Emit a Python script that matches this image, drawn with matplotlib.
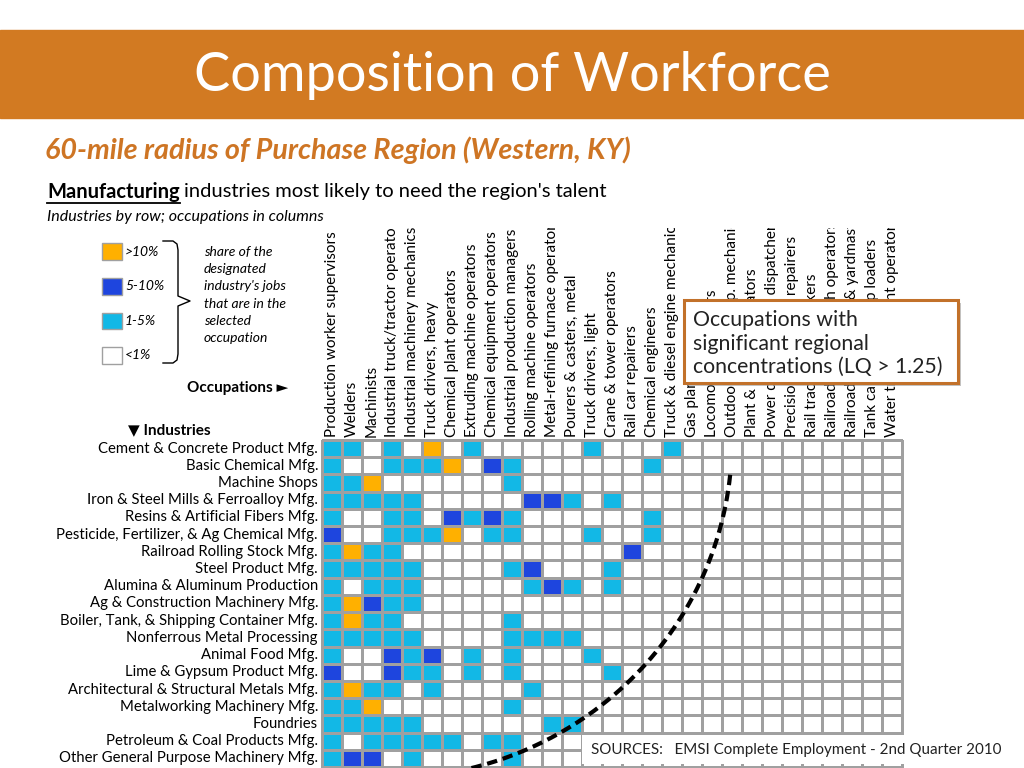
import matplotlib.pyplot as plt
import numpy as np
from matplotlib.colors import ListedColormap
from matplotlib.patches import Rectangle
from matplotlib.lines import Line2D
from matplotlib.transforms import Bbox, TransformedBbox

plt.rcParams['font.family'] = ['Lato', 'DejaVu Sans']

occupations = [
    'Production worker supervisors', 'Welders', 'Machinists',
    'Industrial truck/tractor operators', 'Industrial machinery mechanics',
    'Truck drivers, heavy', 'Chemical plant operators',
    'Extruding machine operators', 'Chemical equipment operators',
    'Industrial production managers', 'Rolling machine operators',
    'Metal-refining furnace operator', 'Pourers & casters, metal',
    'Truck drivers, light', 'Crane & tower operators', 'Rail car repairers',
    'Chemical engineers', 'Truck & diesel engine mechanics',
    'Gas plant operators', 'Locomotive engineers',
    'Outdoor power equip. mechanics', 'Plant & system operators',
    'Power distributors & dispatchers', 'Precision instrument repairers',
    'Rail track laying workers', 'Railroad brake/switch operators',
    'Railroad conductors & yardmasters', 'Tank car, truck & ship loaders',
    'Water treatment plant operators',
]

industries = [
    'Cement & Concrete Product Mfg.', 'Basic Chemical Mfg.', 'Machine Shops',
    'Iron & Steel Mills & Ferroalloy Mfg.', 'Resins & Artificial Fibers Mfg.',
    'Pesticide, Fertilizer, & Ag Chemical Mfg.', 'Railroad Rolling Stock Mfg.',
    'Steel Product Mfg.', 'Alumina & Aluminum Production',
    'Ag & Construction Machinery Mfg.', 'Boiler, Tank, & Shipping Container Mfg.',
    'Nonferrous Metal Processing', 'Animal Food Mfg.',
    'Lime & Gypsum Product Mfg.', 'Architectural & Structural Metals Mfg.',
    'Metalworking Machinery Mfg.', 'Foundries', 'Petroleum & Coal Products Mfg.',
    'Other General Purpose Machinery Mfg.',
]

# 0: <1%, 1: 1-5%, 2: 5-10%, 3: >10%  (one row per industry, one entry per occupation)
share_level = [
    [1,1,0,1,0,3,0,1,0,0, 0,0,0,1,0,0,0,1,0,0, 0,0,0,0,0,0,0,0,0],
    [1,0,0,1,1,1,3,0,2,1, 0,0,0,0,0,0,1,0,0,0, 0,0,0,0,0,0,0,0,0],
    [1,1,3,0,0,0,0,0,0,1, 0,0,0,0,0,0,0,0,0,0, 0,0,0,0,0,0,0,0,0],
    [1,1,1,1,1,0,0,0,0,0, 2,2,1,0,1,0,0,0,0,0, 0,0,0,0,0,0,0,0,0],
    [1,0,0,1,1,0,2,1,2,1, 0,0,0,0,0,0,1,0,0,0, 0,0,0,0,0,0,0,0,0],
    [2,0,0,1,1,1,3,0,1,1, 0,0,0,1,0,0,1,0,0,0, 0,0,0,0,0,0,0,0,0],
    [1,3,1,1,0,0,0,0,0,0, 0,0,0,0,0,2,0,0,0,0, 0,0,0,0,0,0,0,0,0],
    [1,1,1,1,1,0,0,0,0,1, 2,0,0,0,1,0,0,0,0,0, 0,0,0,0,0,0,0,0,0],
    [1,0,1,1,1,0,0,0,0,0, 1,2,1,0,1,0,0,0,0,0, 0,0,0,0,0,0,0,0,0],
    [1,3,2,1,1,0,0,0,0,0, 0,0,0,0,0,0,0,0,0,0, 0,0,0,0,0,0,0,0,0],
    [1,3,1,1,0,0,0,0,0,1, 0,0,0,0,0,0,0,0,0,0, 0,0,0,0,0,0,0,0,0],
    [1,1,1,1,1,0,0,0,0,1, 1,1,1,0,0,0,0,0,0,0, 0,0,0,0,0,0,0,0,0],
    [1,0,0,2,1,2,0,1,0,1, 0,0,0,1,0,0,0,0,0,0, 0,0,0,0,0,0,0,0,0],
    [2,0,0,2,1,1,0,1,0,1, 0,0,0,0,1,0,0,0,0,0, 0,0,0,0,0,0,0,0,0],
    [1,3,1,1,0,1,0,0,0,0, 1,0,0,0,0,0,0,0,0,0, 0,0,0,0,0,0,0,0,0],
    [1,1,3,0,0,0,0,0,0,1, 0,0,0,0,0,0,0,0,0,0, 0,0,0,0,0,0,0,0,0],
    [1,1,1,1,1,0,0,0,0,0, 0,1,1,0,0,0,0,0,0,0, 0,0,0,0,0,0,0,0,0],
    [1,0,1,1,1,1,1,0,1,1, 0,0,0,0,0,0,1,0,0,0, 0,0,0,0,0,0,0,0,0],
    [1,2,2,0,1,0,0,0,0,1, 0,0,0,0,0,0,0,0,0,0, 0,0,0,0,0,0,0,0,0],
]

level_labels = ['<1%', '1-5%', '5-10%', '>10%']
level_colors = ['#FFFFFF', '#12B8E6', '#1E45DE', '#FFB000']

W, H = 1024, 768
fig = plt.figure(figsize=(W / 100, H / 100), dpi=100)


def fx(x):
    return x / W


def fy(y):
    return 1 - y / H


orange = '#D27A22'

# title banner
fig.patches.append(Rectangle((0, fy(118)), 1, 88 / H, transform=fig.transFigure,
                             color=orange, zorder=0))
fig.text(0.5, fy(75), 'Composition of Workforce', color='white', fontsize=39,
         ha='center', va='center')
fig.text(fx(45), fy(150), '60-mile radius of Purchase Region (Western, KY)',
         color='#CE7524', fontsize=20.7, fontweight='bold', fontstyle='italic',
         va='center')

t_bold = fig.text(fx(47), fy(192), 'Manufacturing', fontsize=14.5,
                  fontweight='bold', va='center')
fig.canvas.draw()
bb = t_bold.get_window_extent()
fig.text(bb.x1 / W + 4 / W, fy(192), "industries most likely to need the region's talent",
         fontsize=14.5, va='center')
fig.lines.append(Line2D([bb.x0 / W, bb.x1 / W], [bb.y0 / H - 1.0 / H] * 2,
                        transform=fig.transFigure, color='black', lw=1.3))
fig.text(fx(47), fy(217), 'Industries by row; occupations in columns',
         fontsize=11.5, fontstyle='italic', va='center')

# legend
legend_y = [355, 321, 286, 252]
for lab, col, yy in zip(level_labels, level_colors, legend_y):
    fig.patches.append(Rectangle((fx(102), fy(yy + 8.5)), 20 / W, 17 / H,
                                 transform=fig.transFigure, facecolor=col,
                                 edgecolor='#A0A0A0', lw=1))
    fig.text(fx(125), fy(yy), lab, fontsize=10, fontstyle='italic', va='center')

brace_x = [163, 173, 177, 178, 178, 190, 178, 178, 177, 173, 163]
brace_y = [241, 241, 244, 250, 296, 301, 306, 354, 360, 363, 363]
fig.lines.append(Line2D([fx(v) for v in brace_x], [fy(v) for v in brace_y],
                        transform=fig.transFigure, color='black', lw=1))
share_text = ['share of the', 'designated', "industry's jobs", 'that are in the',
              'selected', 'occupation']
for k, line in enumerate(share_text):
    fig.text(fx(204), fy(252 + 17.2 * k), line, fontsize=10, fontstyle='italic',
             va='center')

fig.text(fx(288), fy(388), 'Occupations \u25BA', fontsize=11, fontweight='bold',
         ha='right', va='center')
fig.text(fx(128), fy(430), '\u25BC Industries', fontsize=11, fontweight='bold',
         va='center')

# grid
n_occ, n_ind = len(occupations), len(industries)
ax = fig.add_axes([fx(322), fy(767), 580 / W, 327 / H])
mesh = ax.pcolormesh(np.arange(n_occ + 1), np.arange(n_ind + 1), np.array(share_level),
                     cmap=ListedColormap(level_colors), vmin=-0.5, vmax=3.5,
                     edgecolors='#A0A0A0', linewidth=1.0)
mesh.set_clip_on(False)
ax.set_xlim(0, n_occ)
ax.set_ylim(n_ind, 0)
ax.axis('off')

header_clip = TransformedBbox(Bbox.from_extents(0, 0, 1, fy(228)), fig.transFigure)
for i, occ in enumerate(occupations):
    t = fig.text(i + 0.5, -0.2, occ, transform=ax.transData, rotation=90,
                 ha='center', va='bottom', fontsize=11)
    t.set_clip_box(header_clip)
    t.set_clip_on(True)
for j, ind in enumerate(industries):
    fig.text(-0.2, j + 0.5, ind, transform=ax.transData, ha='right',
             va='center', fontsize=10.7)

# dashed boundary curve
theta = np.radians(np.linspace(5.9, 90, 200))
ax.plot(3.3 + 17.2 * np.cos(theta), 19.65 * np.sin(theta), color='black', lw=3,
        ls=(0, (2.5, 1.4)), clip_on=False, zorder=5)

# callout
fig.patches.append(Rectangle((fx(687), fy(386)), 274 / W, 83 / H,
                             transform=fig.transFigure, facecolor='#8A8A8A',
                             alpha=0.5, lw=0, zorder=9))
fig.patches.append(Rectangle((fx(684), fy(383)), 274 / W, 83 / H,
                             transform=fig.transFigure, facecolor='white',
                             edgecolor='#C2712A', lw=2.2, zorder=10))
for k, line in enumerate(['Occupations with', 'significant regional',
                          'concentrations (LQ > 1.25)']):
    fig.text(fx(693), fy(320 + 23.5 * k), line, fontsize=15.3, color='#222222',
             va='center', zorder=11)

# sources
fig.patches.append(Rectangle((fx(582), fy(764)), 442 / W, 29 / H,
                             transform=fig.transFigure, facecolor='white', lw=0,
                             zorder=10))
fig.text(fx(591), fy(750), 'SOURCES:   EMSI Complete Employment - 2nd Quarter 2010',
         fontsize=10.9, color='#222222', va='center', zorder=11)

fig.savefig('out.png', dpi=100)
